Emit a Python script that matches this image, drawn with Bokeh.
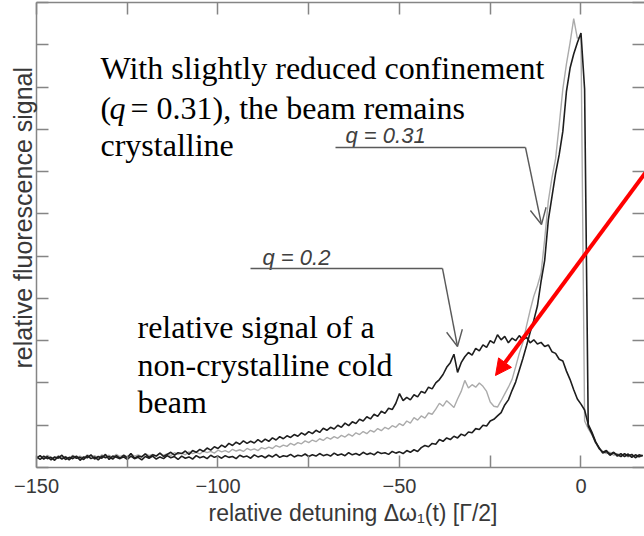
import math
from bokeh.plotting import figure
from bokeh.models import (Range1d, LinearAxis, FixedTicker, CustomJSTickFormatter,
                          Label, Arrow, OpenHead, NormalHead, Title)
from bokeh.embed import file_html
from bokeh.resources import INLINE

# ---------------- data ----------------
detuning = list(range(-150, 18))

# broad curve, q = 0.2
signal_q02 = [
    0.22, 0.28, 0.20, 0.26, 0.18, 0.25, 0.22, 0.29, 0.19, 0.24,   # -150..-141
    0.21, 0.27, 0.17, 0.25, 0.23, 0.30, 0.20, 0.26, 0.22, 0.31,   # -140..-131
    0.19, 0.27, 0.24, 0.21, 0.29, 0.23, 0.33, 0.22, 0.27, 0.25,   # -130..-121
    0.32, 0.24, 0.30, 0.27, 0.34, 0.26, 0.31, 0.36, 0.29, 0.35,   # -120..-111
    0.33, 0.39, 0.31, 0.40, 0.36, 0.43, 0.38, 0.46, 0.41, 0.49,   # -110..-101
    0.45, 0.53, 0.48, 0.57, 0.52, 0.60, 0.55, 0.63, 0.57, 0.62,   # -100..-91
    0.58, 0.66, 0.60, 0.67, 0.62, 0.70, 0.65, 0.73, 0.68, 0.75,   # -90..-81
    0.71, 0.78, 0.74, 0.82, 0.77, 0.85, 0.80, 0.88, 0.83, 0.93,   # -80..-71
    0.88, 0.95, 0.91, 1.00, 0.95, 1.05, 0.99, 1.08, 1.04, 1.14,   # -70..-61
    1.10, 1.20, 1.15, 1.26, 1.21, 1.33, 1.28, 1.40, 1.37, 1.52,   # -60..-51
    1.75, 1.58, 1.66, 1.60, 1.72, 1.67, 1.80, 1.76, 1.90, 1.86,   # -50..-41
    2.00, 2.08, 2.20, 2.37, 2.48, 2.68, 2.25, 2.48, 2.62, 2.72,   # -40..-31
    2.66, 2.82, 2.76, 2.90, 2.84, 3.00, 2.94, 3.14, 3.02, 3.10,   # -30..-21
    2.95, 3.06, 3.00, 3.12, 3.02, 3.08, 2.95, 3.02, 2.92, 2.96,   # -20..-11
    2.86, 2.90, 2.74, 2.70, 2.56, 2.52, 2.28, 2.08, 1.84, 1.62,   # -10..-1
    1.50, 1.36, 1.02, 0.84, 0.62, 0.45, 0.36, 0.40, 0.31, 0.36,   # 0..9
    0.27, 0.33, 0.26, 0.32, 0.24, 0.30, 0.26, 0.29,               # 10..17
]

# sharp crystalline peak, q = 0.31
signal_q031 = [
    0.25, 0.19, 0.27, 0.21, 0.24, 0.17, 0.26, 0.20, 0.25, 0.18,   # -150..-141
    0.27, 0.22, 0.24, 0.19, 0.28, 0.21, 0.25, 0.18, 0.27, 0.23,   # -140..-131
    0.26, 0.20, 0.28, 0.22, 0.25, 0.19, 0.27, 0.21, 0.24, 0.18,   # -130..-121
    0.26, 0.22, 0.27, 0.20, 0.25, 0.21, 0.28, 0.23, 0.26, 0.19,   # -120..-111
    0.27, 0.22, 0.25, 0.20, 0.28, 0.23, 0.26, 0.21, 0.29, 0.24,   # -110..-101
    0.27, 0.22, 0.28, 0.24, 0.26, 0.21, 0.29, 0.25, 0.27, 0.22,   # -100..-91
    0.30, 0.25, 0.28, 0.23, 0.29, 0.25, 0.31, 0.24, 0.28, 0.26,   # -90..-81
    0.31, 0.25, 0.29, 0.27, 0.32, 0.26, 0.30, 0.27, 0.33, 0.28,   # -80..-71
    0.31, 0.27, 0.34, 0.29, 0.32, 0.28, 0.35, 0.30, 0.33, 0.29,   # -70..-61
    0.36, 0.31, 0.34, 0.30, 0.37, 0.33, 0.35, 0.31, 0.38, 0.34,   # -60..-51
    0.37, 0.33, 0.40, 0.36, 0.42, 0.38, 0.47, 0.52, 0.49, 0.57,   # -50..-41
    0.55, 0.66, 0.62, 0.70, 0.66, 0.74, 0.70, 0.79, 0.75, 0.84,   # -40..-31
    0.82, 0.92, 0.90, 1.00, 0.98, 1.10, 1.14, 1.22, 1.30, 1.48,   # -30..-21
    1.60, 1.82, 2.02, 2.30, 2.58, 2.88, 3.20, 3.48, 3.82, 4.40,   # -20..-11
    4.90, 5.85, 6.40, 6.95, 7.40, 7.95, 8.90, 9.45, 9.78, 10.05,  # -10..-1
    10.28, 8.95, 0.98, 0.80, 0.60, 0.47, 0.34, 0.38, 0.29, 0.35,  # 0..9
    0.30, 0.26, 0.33, 0.27, 0.31, 0.23, 0.30, 0.27,               # 10..17
]

# intermediate (grey) curve
signal_mid = [
    0.23, 0.27, 0.21, 0.29, 0.24, 0.20, 0.28, 0.23, 0.26, 0.21,   # -150..-141
    0.29, 0.24, 0.27, 0.22, 0.30, 0.25, 0.28, 0.23, 0.30, 0.26,   # -140..-131
    0.29, 0.24, 0.31, 0.26, 0.29, 0.25, 0.32, 0.27, 0.30, 0.26,   # -130..-121
    0.33, 0.28, 0.31, 0.27, 0.34, 0.29, 0.32, 0.28, 0.35, 0.31,   # -120..-111
    0.34, 0.30, 0.37, 0.33, 0.36, 0.32, 0.39, 0.35, 0.38, 0.34,   # -110..-101
    0.41, 0.37, 0.40, 0.36, 0.43, 0.39, 0.42, 0.38, 0.45, 0.41,   # -100..-91
    0.44, 0.40, 0.47, 0.44, 0.48, 0.45, 0.52, 0.48, 0.53, 0.50,   # -90..-81
    0.57, 0.53, 0.59, 0.56, 0.63, 0.59, 0.65, 0.61, 0.68, 0.64,   # -80..-71
    0.71, 0.67, 0.73, 0.69, 0.76, 0.72, 0.79, 0.74, 0.82, 0.78,   # -70..-61
    0.85, 0.80, 0.88, 0.84, 0.92, 0.87, 0.95, 0.91, 0.99, 0.95,   # -60..-51
    1.04, 0.99, 1.10, 1.05, 1.18, 1.12, 1.22, 1.17, 1.29, 1.26,   # -50..-41
    1.38, 1.52, 1.45, 1.58, 1.50, 1.42, 1.62, 1.80, 2.06, 1.88,   # -40..-31
    1.96, 1.90, 2.00, 1.92, 1.80, 1.55, 1.45, 1.43, 1.58, 1.74,   # -30..-21
    1.90, 2.08, 2.38, 2.70, 2.96, 3.35, 3.72, 4.05, 4.30, 4.60,   # -20..-11
    5.40, 6.30, 6.85, 7.30, 8.10, 8.95, 9.55, 10.05, 10.62, 10.15,  # -10..-1
    10.20, 1.10, 0.92, 0.78, 0.58, 0.44, 0.38, 0.33, 0.36, 0.29,  # 0..9
    0.33, 0.28, 0.31, 0.25, 0.30, 0.27, 0.24, 0.29,               # 10..17
]

x_major_ticks = [-150, -100, -50, 0]
x_minor_ticks = [-125, -75, -25]
y_ticks = list(range(0, 12))

# ---------------- layout ----------------
W, H = 644, 536
FL, FR, FT, FB = 36, 644, 2, 467
X0, X1 = -150, 17.5
Y0, Y1 = 0, 11


def xd(px):
    return X0 + (px - FL) * (X1 - X0) / (FR - FL)


def yd(py):
    return Y0 + (FB - py) * (Y1 - Y0) / (FB - FT)


p = figure(width=W, height=H, x_range=Range1d(X0, X1), y_range=Range1d(Y0, Y1),
           output_backend="svg", toolbar_location=None,
           x_axis_location=None, y_axis_location=None,
           min_border_left=FL, min_border_right=0, min_border_top=FT,
           min_border_bottom=H - FB)
p.outline_line_color = None
p.grid.visible = False
p.background_fill_color = "white"
p.border_fill_color = "white"

AX = "#858585"
TXT = "#383838"


def style(ax, line=True):
    ax.axis_line_color = AX if line else None
    ax.axis_line_width = 1.5
    ax.major_tick_line_color = AX
    ax.major_tick_line_width = 1.5
    ax.minor_tick_line_color = AX
    ax.minor_tick_line_width = 1.5
    ax.major_tick_in = 12
    ax.major_tick_out = 0
    ax.minor_tick_in = 12
    ax.minor_tick_out = 0


def no_labels(ax):
    ax.formatter = CustomJSTickFormatter(code="return '';")
    ax.major_label_text_font_size = "0px"
    ax.major_label_standoff = 0


x_ticker = FixedTicker(ticks=x_major_ticks, minor_ticks=x_minor_ticks)
y_ticker = FixedTicker(ticks=y_ticks, minor_ticks=[])

bx = LinearAxis(ticker=x_ticker, formatter=CustomJSTickFormatter(
    code="return tick < 0 ? '\u2212' + Math.abs(tick) : String(tick);"))
style(bx)
bx.major_label_text_font = "Liberation Sans"
bx.major_label_text_font_size = "20px"
bx.major_label_text_color = TXT
bx.major_label_standoff = 11
p.add_layout(bx, "below")

tx = LinearAxis(ticker=x_ticker)
style(tx)
no_labels(tx)
p.add_layout(tx, "above")

ly = LinearAxis(ticker=y_ticker)
style(ly)
no_labels(ly)
p.add_layout(ly, "left")

ry = LinearAxis(ticker=y_ticker)
style(ry, line=False)
no_labels(ry)
p.add_layout(ry, "right")

# axis titles
p.add_layout(Title(text="relative detuning \u0394\u03c9\u2081(t) [\u0393/2]",
                   align="left", offset=172, standoff=4,
                   text_font="Liberation Sans", text_font_size="23px",
                   text_font_style="normal", text_color=TXT), "below")
p.add_layout(Title(text="relative fluorescence signal",
                   align="left", offset=99, standoff=0,
                   text_font="Liberation Sans", text_font_size="25px",
                   text_font_style="normal", text_color=TXT), "left")

# ---------------- curves ----------------
p.line(detuning, signal_mid, line_color="#ababab", line_width=1.4)
p.line(detuning, signal_q031, line_color="#1e1e1e", line_width=1.6)
p.line(detuning, signal_q02, line_color="#1e1e1e", line_width=1.6)


# ---------------- texts ----------------
def text(px, py, s, font="Liberation Serif", size="32px", style="normal",
         color="black", align="left", baseline="alphabetic", angle=0.0):
    p.add_layout(Label(x=xd(px), y=yd(py), text=s, text_font=font,
                       text_font_size=size, text_font_style=style,
                       text_color=color, text_align=align,
                       text_baseline=baseline, angle=angle))


text(100, 67, "With slightly reduced confinement")
text(100, 107, "(")
text(109, 107, "q", style="italic")
text(130, 107, "= 0.31), the beam remains")
text(100, 144, "crystalline")

text(137, 326, "relative signal of a")
text(137, 364, "non-crystalline cold")
text(137, 401, "beam")

text(345, 135, "q = 0.31", font="Liberation Sans", size="22px",
     style="italic", color="#404040")
text(262, 257, "q = 0.2", font="Liberation Sans", size="22px",
     style="italic", color="#404040")

# ---------------- leader arrows ----------------
LEAD = "#5a5a5a"
p.add_layout(Arrow(x_start=xd(335), y_start=yd(147), x_end=xd(525), y_end=yd(147),
                   end=None, line_color=LEAD, line_width=1.4))
p.add_layout(Arrow(x_start=xd(525), y_start=yd(147), x_end=xd(541), y_end=yd(224),
                   end=OpenHead(size=16, line_color=LEAD, line_width=1.4),
                   line_color=LEAD, line_width=1.4))
p.add_layout(Arrow(x_start=xd(250), y_start=yd(268), x_end=xd(442), y_end=yd(268),
                   end=None, line_color=LEAD, line_width=1.4))
p.add_layout(Arrow(x_start=xd(442), y_start=yd(268), x_end=xd(457), y_end=yd(346),
                   end=OpenHead(size=16, line_color=LEAD, line_width=1.4),
                   line_color=LEAD, line_width=1.4))

# red arrow
p.add_layout(Arrow(x_start=xd(662), y_start=yd(149), x_end=xd(495), y_end=yd(375),
                   end=NormalHead(size=16, fill_color="#ff0000", line_color="#ff0000"),
                   line_color="#ff0000", line_width=4))

open("out.html", "w").write(file_html(p, INLINE))
